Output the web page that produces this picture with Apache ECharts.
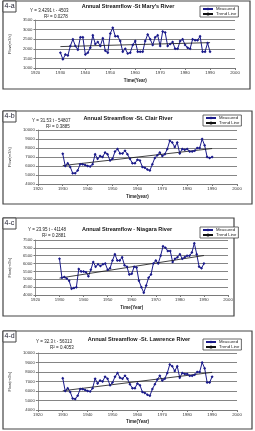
<!DOCTYPE html>
<html><head><meta charset="utf-8">
<script src="https://cdn.jsdelivr.net/npm/echarts@6/dist/echarts.min.js"></script>
<style>html,body{margin:0;padding:0;background:#fff}#c{width:255px;height:431px}</style>
</head><body><div id="c"></div>
<script>
const years = [1930,1931,1932,1933,1934,1935,1936,1937,1938,1939,1940,1941,1942,1943,1944,1945,1946,1947,1948,1949,1950,1951,1952,1953,1954,1955,1956,1957,1958,1959,1960,1961,1962,1963,1964,1965,1966,1967,1968,1969,1970,1971,1972,1973,1974,1975,1976,1977,1978,1979,1980,1981,1982,1983,1984,1985,1986,1987,1988,1989,1990];
const stMarys = [1800,1450,1700,1650,2150,2500,2150,1950,2600,2600,1700,1800,2050,2700,2250,2350,2150,2550,1900,1800,2800,3100,2650,2650,2400,1850,2000,1750,1800,2200,2400,1850,1850,1850,2400,2750,2500,2200,2600,2700,2150,2900,2850,2150,2250,2350,2000,2000,2400,2500,2200,2050,2000,2500,2450,2450,2650,1850,1850,2300,1850];
const stClair = [7350,6000,6300,5900,5200,5200,5500,6200,6200,6100,6000,5950,6200,7300,6800,7100,7000,7500,7300,6600,6800,7600,7900,7400,7400,7700,7300,6800,6300,6300,6700,6600,5900,5800,5600,5500,6200,6900,7200,7500,7100,7300,7900,8800,8600,8100,8600,7400,7900,7800,7900,7600,7600,7700,8000,8000,9000,8300,7000,6900,7000];
const niagara = [6300,5100,5150,5050,4900,4400,4450,4500,5650,5500,5500,5450,5200,5600,6100,5800,5950,5850,5950,6000,5600,5700,6200,6600,6200,6200,6400,5900,5800,5300,5350,5800,5750,4900,4500,4150,4600,5100,5300,6000,6200,6000,6500,7100,7000,6800,6800,6100,6300,6400,6600,6300,6400,6500,6500,6700,7300,6600,5800,5700,6000];
const stLawrence = [7350,6000,6300,5900,5200,5150,5500,6200,6200,6100,6000,5950,6300,7300,6800,7100,7000,7500,7300,6600,6900,7500,7900,7400,7300,7600,7300,6700,6300,6300,6800,6600,5900,5800,5600,5500,6200,6700,7200,7600,7100,7300,7900,8800,8600,8100,8600,7400,7900,7800,7800,7600,7600,7700,8000,8000,9000,8400,6900,6900,7500];
const trendYears = [1930, 1990];
const trendA = [2115, 2321];
const trendB = [6046, 7938];
const trendC = [5075, 6512];
const trendD = [6024, 7962];
const xTicks = {min: 1920, max: 2000, interval: 10};

const panels = [
  {label:'4-a', title:"Annual Streamflow -St Mary's River", eq:'Y = 3.4291 t - 4503', r2:'R² = 0.0278', xname:'Time(Year)',
   data:stMarys, trend:trendA, y:{min:1000,max:3500,interval:500},
   grid:{left:28,top:20,width:207,height:48}, box:[3,1,247,88], tx:128, ty:3, eqx:30, eqy:8,
   leg:{left:200,top:6}, xnameGap:10},
  {label:'4-b', title:'Annual Streamflow -St. Clair River', eq:'Y = 31.53 t - 54807', r2:'R² = 0.3885', xname:'Time(year)',
   data:stClair, trend:trendB, y:{min:4000,max:10000,interval:1000},
   grid:{left:28,top:130,width:209,height:54}, box:[3,111,249,93], tx:128, ty:115, eqx:32, eqy:118,
   leg:{left:203,top:115}, xnameGap:10},
  {label:'4-c', title:'Annual Streamflow - Niagara River', eq:'Y = 23.95 t - 41148', r2:'R² = 0.2881', xname:'Time(Year)',
   data:niagara, trend:trendC, y:{min:4000,max:7500,interval:500},
   grid:{left:28,top:240,width:200,height:55}, box:[3,218,231,98], tx:127, ty:226, eqx:28, eqy:227,
   leg:{left:200,top:227}, xnameGap:10},
  {label:'4-d', title:'Annual Streamflow -St. Lawrence River', eq:'Y = 32.3 t - 56313', r2:'R² = 0.4053', xname:'Time(Year)',
   data:stLawrence, trend:trendD, y:{min:4000,max:10000,interval:1000},
   grid:{left:28,top:353,width:209,height:57}, box:[3,331,249,98], tx:139, ty:336, eqx:36, eqy:339,
   leg:{left:203,top:339}, xnameGap:9}
];

const FONT = 'Liberation Sans, Arial, sans-serif';
const plain = v => String(v);
const option = {
  animation:false, backgroundColor:'#fff',
  title:[], grid:[], xAxis:[], yAxis:[], series:[], legend:[], graphic:[]
};
panels.forEach((p,i)=>{
  option.graphic.push({type:'rect', shape:{x:p.box[0],y:p.box[1],width:p.box[2],height:p.box[3]}, style:{fill:'none',stroke:'#444',lineWidth:1.2}, z:-1});
  option.graphic.push({type:'rect', shape:{x:p.box[0],y:p.box[1],width:13,height:11}, style:{fill:'#fff',stroke:'#444',lineWidth:1}});
  option.graphic.push({type:'text', x:p.box[0]+1.5, y:p.box[1]+2, style:{text:p.label,fontSize:7,fontFamily:FONT,fill:'#223'}});
  option.graphic.push({type:'text', x:p.eqx, y:p.eqy, style:{text:p.eq,fontSize:4.5,fontFamily:FONT,fill:'#222'}});
  option.graphic.push({type:'text', x:p.eqx+14, y:p.eqy+6, style:{text:p.r2,fontSize:4.5,fontFamily:FONT,fill:'#222'}});
  option.title.push({text:p.title, left:p.tx, top:p.ty, textAlign:'center', padding:0,
    textStyle:{fontSize:5.5,fontWeight:'bold',fontFamily:FONT,color:'#111'}});
  option.grid.push(Object.assign({containLabel:false, show:false}, p.grid));
  option.xAxis.push({type:'value', gridIndex:i, min:xTicks.min, max:xTicks.max, interval:xTicks.interval,
    name:p.xname, nameLocation:'middle', nameGap:p.xnameGap,
    nameTextStyle:{fontSize:4.5,fontWeight:'bold',fontFamily:FONT,color:'#222'},
    axisLine:{lineStyle:{color:'#777',width:0.8}}, axisTick:{show:true,length:2,lineStyle:{color:'#777'}},
    axisLabel:{fontSize:4.3,fontFamily:FONT,color:'#333',margin:3,formatter:plain}, splitLine:{show:false}});
  option.yAxis.push({type:'value', gridIndex:i, min:p.y.min, max:p.y.max, interval:p.y.interval,
    name:'Flow(m3/s)', nameLocation:'middle', nameGap:15, nameRotate:90,
    nameTextStyle:{fontSize:4,fontFamily:FONT,color:'#333'},
    axisLine:{show:true,lineStyle:{color:'#777',width:0.8}}, axisTick:{show:true,length:2,lineStyle:{color:'#777'}},
    axisLabel:{fontSize:4.3,fontFamily:FONT,color:'#333',margin:3,formatter:plain},
    splitLine:{show:true,lineStyle:{color:'#666',width:0.8}}});
  option.series.push({type:'line', name:'Measured', xAxisIndex:i, yAxisIndex:i,
    data:years.map((y,k)=>[y,p.data[k]]), symbol:'diamond', symbolSize:3, showSymbol:true,
    lineStyle:{color:'#1a1a8a',width:1}, itemStyle:{color:'#1a1a8a'}});
  option.series.push({type:'line', name:'Trend Line', xAxisIndex:i, yAxisIndex:i,
    data:trendYears.map((y,k)=>[y,p.trend[k]]), symbol:'none',
    lineStyle:{color:'#111',width:0.8}, itemStyle:{color:'#111'}});
  option.legend.push({left:p.leg.left, top:p.leg.top, orient:'vertical', data:['Measured','Trend Line'],
    itemWidth:10, itemHeight:4, itemGap:1, padding:[1,2,1,2], borderColor:'#444', borderWidth:0.8,
    backgroundColor:'#fff', selectedMode:false,
    textStyle:{fontSize:4.3,fontFamily:FONT,color:'#222',padding:[0,0,0,-2]}});
});
const chart = echarts.init(document.getElementById('c'), null, {renderer:'canvas'});
chart.setOption(option);
</script></body></html>
